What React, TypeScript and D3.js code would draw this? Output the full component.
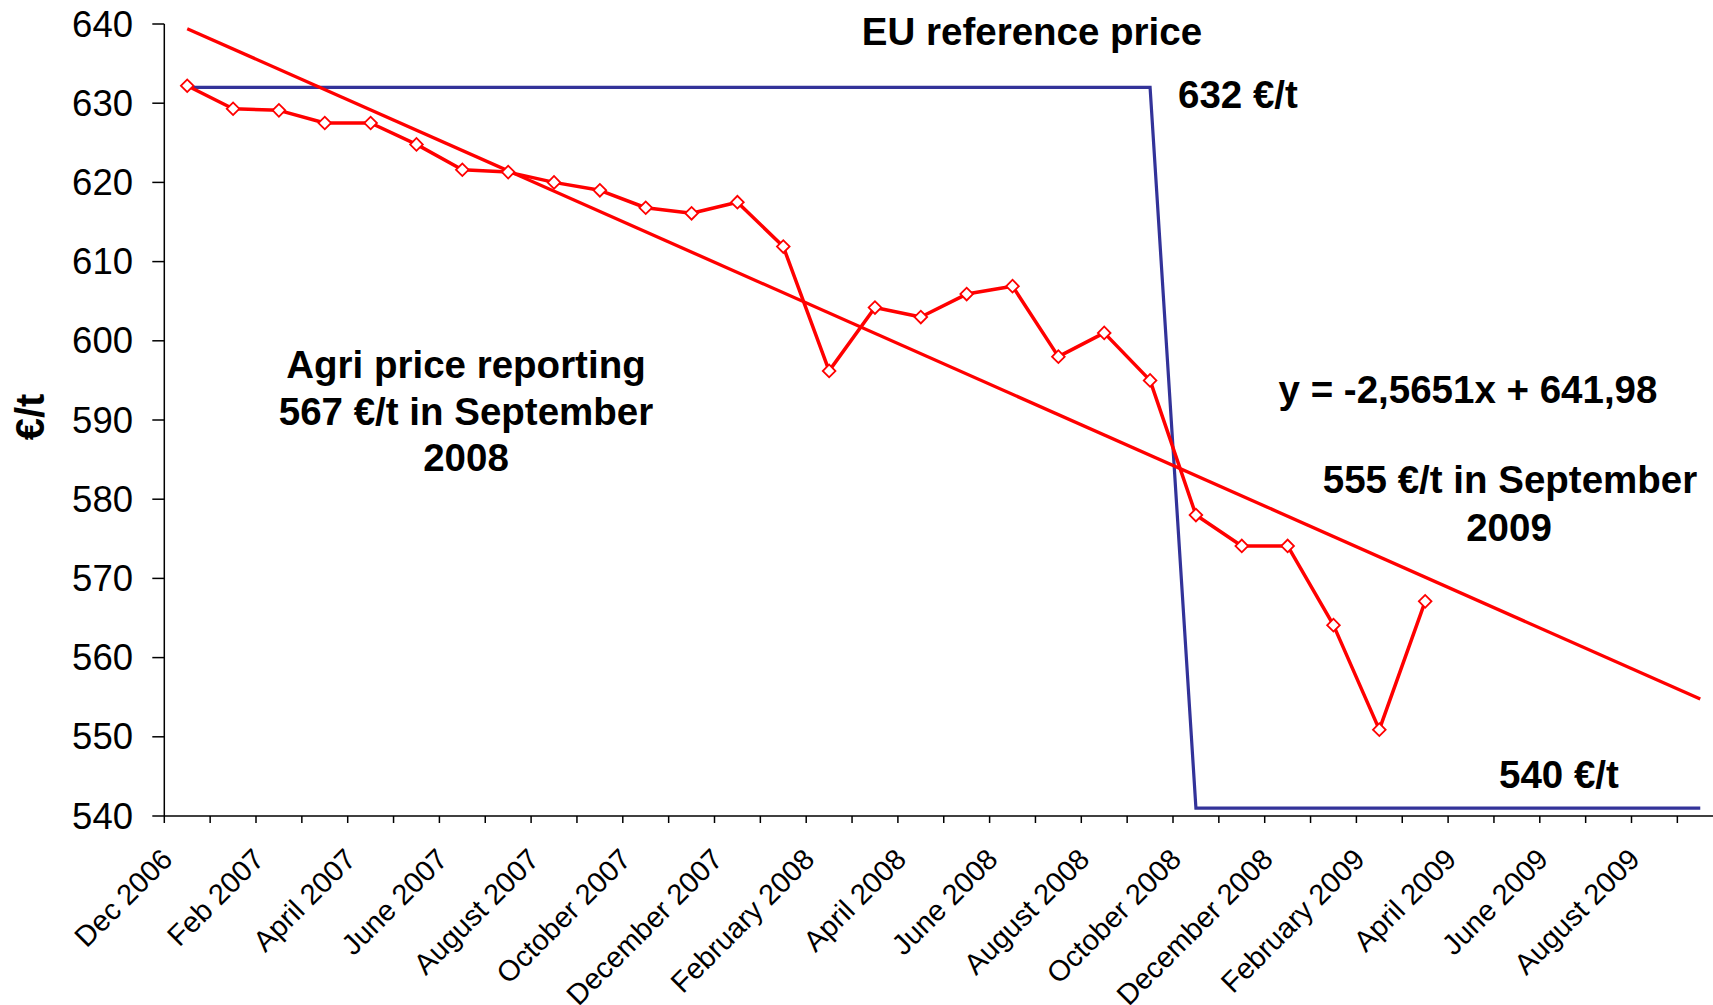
import React from "react";
import * as d3 from "d3";

// ---- Data ----
const months: string[] = [
  "Dec 2006", "Jan 2007", "Feb 2007", "Mar 2007", "Apr 2007", "May 2007",
  "Jun 2007", "Jul 2007", "Aug 2007", "Sep 2007", "Oct 2007", "Nov 2007",
  "Dec 2007", "Jan 2008", "Feb 2008", "Mar 2008", "Apr 2008", "May 2008",
  "Jun 2008", "Jul 2008", "Aug 2008", "Sep 2008", "Oct 2008", "Nov 2008",
  "Dec 2008", "Jan 2009", "Feb 2009", "Mar 2009", "Apr 2009", "May 2009",
  "Jun 2009", "Jul 2009", "Aug 2009", "Sep 2009",
];

const tickLabels: string[] = [
  "Dec 2006", "", "Feb 2007", "", "April 2007", "", "June 2007", "",
  "August 2007", "", "October 2007", "", "December 2007", "", "February 2008", "",
  "April 2008", "", "June 2008", "", "August 2008", "", "October 2008", "",
  "December 2008", "", "February 2009", "", "April 2009", "", "June 2009", "",
  "August 2009", "",
];

const agriPrice: number[] = [
  632.2, 629.3, 629.1, 627.5, 627.5, 624.8, 621.6, 621.3, 620.0, 619.0,
  616.8, 616.1, 617.5, 611.9, 596.2, 604.2, 603.0, 605.9, 606.9, 598.0,
  601.0, 595.0, 578.0, 574.1, 574.1, 564.1, 550.9, 567.1,
];

const euReference: number[] = [
  632, 632, 632, 632, 632, 632, 632, 632, 632, 632, 632,
  632, 632, 632, 632, 632, 632, 632, 632, 632, 632, 632,
  541, 541, 541, 541, 541, 541, 541, 541, 541, 541, 541, 541,
];

const trendSlope = -2.5651;
const trendIntercept = 641.98;

const yTicks: number[] = [540, 550, 560, 570, 580, 590, 600, 610, 620, 630, 640];

// ---- Layout ----
const W = 1713;
const H = 1005;
const left = 164.3;
const band = 45.85;
const top = 24;
const bottom = 816;
const FONT = "'Liberation Sans', Arial, Helvetica, sans-serif";
const RED = "#ff0000";
const BLUE = "#333399";

export default function App() {
  const x = d3
    .scaleBand<string>()
    .domain(months)
    .range([left, left + band * months.length])
    .padding(0);
  const cx = (i: number) => (x(months[i]) as number) + x.bandwidth() / 2;
  const y = d3.scaleLinear().domain([540, 640]).range([bottom, top]);

  const line = d3
    .line<number>()
    .x((_, i) => cx(i))
    .y((d) => y(d));

  const trendPts: [number, number][] = [
    [cx(0), y(trendSlope * 1 + trendIntercept)],
    [cx(months.length - 1), y(trendSlope * months.length + trendIntercept)],
  ];
  const trendPath = d3.line()(trendPts) as string;
  const marker = d3.symbol(d3.symbolSquare, 80)() as string;

  const annot = { fontFamily: FONT, fontWeight: 700, fontSize: 38.5, fill: "#000" } as const;

  return (
    <svg
      width={W}
      height={H}
      style={{ position: "absolute", left: 0, top: 0, background: "#fff" }}
    >
      <rect width={W} height={H} fill="#fff" />
      {/* Y axis */}
      <line x1={left} x2={left} y1={top} y2={bottom} stroke="#000" strokeWidth={1.5} />
      {yTicks.map((t) => (
        <g key={t}>
          <line x1={left - 12} x2={left} y1={y(t)} y2={y(t)} stroke="#000" strokeWidth={1.5} />
          <text
            x={133}
            y={y(t)}
            textAnchor="end"
            dominantBaseline="central"
            fontFamily={FONT}
            fontSize={36.5}
            fill="#000"
          >
            {t}
          </text>
        </g>
      ))}
      <text
        transform={`translate(30,417) rotate(-90)`}
        textAnchor="middle"
        dominantBaseline="central"
        {...annot}
        fontSize={40}
      >
        €/t
      </text>

      {/* X axis */}
      <line x1={left} x2={left + band * months.length} y1={bottom} y2={bottom} stroke="#000" strokeWidth={1.5} />
      {months.map((m) => (
        <line
          key={"t" + m}
          x1={x(m) as number}
          x2={x(m) as number}
          y1={bottom}
          y2={bottom + 7}
          stroke="#000"
          strokeWidth={1.5}
        />
      ))}
      {tickLabels.map((lab, i) =>
        lab ? (
          <text
            key={"l" + i}
            transform={`translate(${cx(i) - 13},${861}) rotate(-45)`}
            textAnchor="end"
            fontFamily={FONT}
            fontSize={29}
            fill="#000"
          >
            {lab}
          </text>
        ) : null
      )}

      {/* EU reference price */}
      <path d={line(euReference) as string} fill="none" stroke={BLUE} strokeWidth={3.2} />
      {/* Agri price */}
      <path d={line(agriPrice) as string} fill="none" stroke={RED} strokeWidth={3.5} strokeLinejoin="round" />
      {/* Trend */}
      <path d={trendPath} fill="none" stroke={RED} strokeWidth={3.3} />
      {agriPrice.map((v, i) => (
        <path
          key={"m" + i}
          d={marker}
          transform={`translate(${cx(i)},${y(v)}) rotate(45)`}
          fill="#fff"
          stroke={RED}
          strokeWidth={1.8}
        />
      ))}

      {/* Annotations */}
      <text x={1032} y={45} textAnchor="middle" {...annot}>EU reference price</text>
      <text x={1178} y={108} textAnchor="start" {...annot}>632 €/t</text>
      <text x={466} y={378} textAnchor="middle" {...annot}>Agri price reporting</text>
      <text x={466} y={425} textAnchor="middle" {...annot}>567 €/t in September</text>
      <text x={466} y={471} textAnchor="middle" {...annot}>2008</text>
      <text x={1468} y={403} textAnchor="middle" {...annot}>y = -2,5651x + 641,98</text>
      <text x={1510} y={493} textAnchor="middle" {...annot}>555 €/t in September</text>
      <text x={1509} y={541} textAnchor="middle" {...annot}>2009</text>
      <text x={1499} y={788} textAnchor="start" {...annot}>540 €/t</text>
    </svg>
  );
}
